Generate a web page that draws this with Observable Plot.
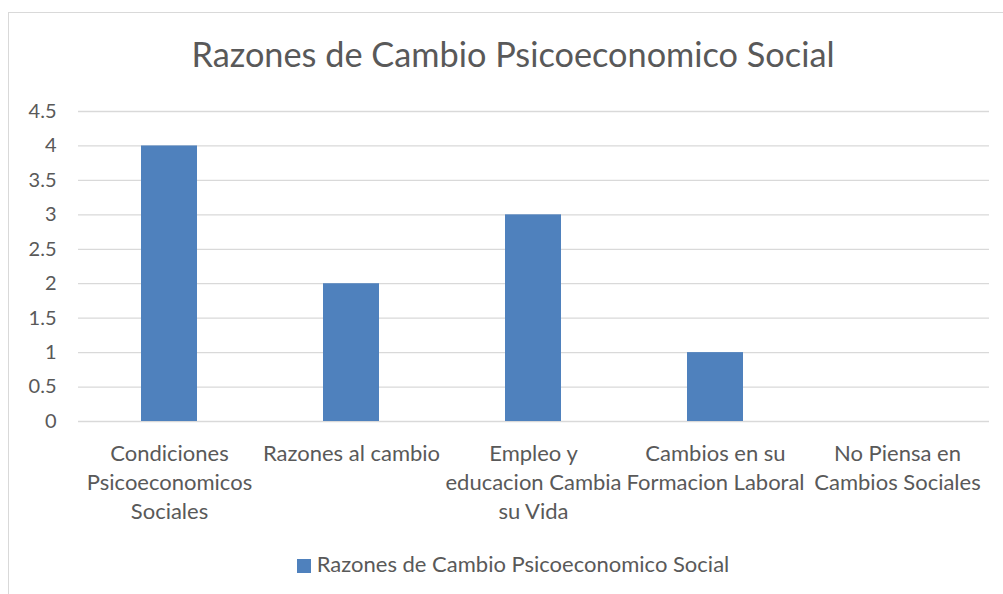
<!DOCTYPE html>
<html>
<head>
<meta charset="utf-8">
<script src="https://cdn.jsdelivr.net/npm/d3@7"></script>
<script src="https://cdn.jsdelivr.net/npm/@observablehq/plot@0.6"></script>
<style>
  html, body { margin: 0; padding: 0; background: #fff; width: 1003px; height: 594px; overflow: hidden; }
  body { font-family: Lato, "Open Sans", sans-serif; color: #595959; position: relative; }
  #frame { position: absolute; left: 8px; top: 12px; width: 1010px; height: 600px; border: 1px solid #d9d9d9; box-sizing: border-box; }
  #title { position: absolute; left: 8px; width: 1010px; top: 30px; text-align: center; font-size: 34.3px; line-height: 48px; color: #595959; white-space: nowrap; }
  #chart { position: absolute; left: 0; top: 90px; }
  #legend { position: absolute; left: 8px; width: 1010px; top: 550px; text-align: center; font-size: 22px; line-height: 28px; white-space: nowrap; color: #595959; }
  #legend .sw { display: inline-block; width: 14px; height: 14px; background: #4F81BD; margin-right: 6px; vertical-align: -1px; }
</style>
</head>
<body>
<div id="frame"></div>
<div id="title"></div>
<div id="chart"></div>
<div id="legend"></div>
<script>
const title = "Razones de Cambio Psicoeconomico Social";
const seriesName = "Razones de Cambio Psicoeconomico Social";
const categories = [
  "Condiciones\nPsicoeconomicos\nSociales",
  "Razones al cambio",
  "Empleo y\neducacion Cambia\nsu Vida",
  "Cambios en su\nFormacion Laboral",
  "No Piensa en\nCambios Sociales"
];
const values = [4, 2, 3, 1, 0];
const yTicks = [0, 0.5, 1, 1.5, 2, 2.5, 3, 3.5, 4, 4.5];
const yTickLabels = ["0", "0.5", "1", "1.5", "2", "2.5", "3", "3.5", "4", "4.5"];
const barColor = "#4F81BD";

const data = categories.map((c, i) => ({category: c, value: values[i]}));

document.getElementById("title").textContent = title;
document.getElementById("legend").innerHTML = '<span class="sw"></span>' + seriesName;

const chart = Plot.plot({
  width: 1003,
  height: 440,
  marginLeft: 78,
  marginRight: 14,
  marginTop: 21,
  marginBottom: 109,
  style: {fontFamily: "Lato, 'Open Sans', sans-serif", fontSize: "20px", color: "#595959", background: "transparent"},
  x: {domain: categories, paddingInner: 0.69, paddingOuter: 0.345, label: null},
  y: {domain: [0, 4.5], label: null},
  marks: [
    Plot.gridY(yTicks, {stroke: "#d9d9d9", strokeOpacity: 1, strokeWidth: 1.3}),
    Plot.barY(data, {x: "category", y: "value", fill: barColor}),
    Plot.axisY(yTicks, {tickSize: 0, tickPadding: 22, tickFormat: (d) => yTickLabels[yTicks.indexOf(d)], fill: "#595959", fontSize: 20, label: null}),
    Plot.axisX({tickSize: 0, tickPadding: 19, lineHeight: 1.32, fill: "#595959", fontSize: 22, label: null, textAnchor: "middle"})
  ]
});
document.getElementById("chart").appendChild(chart);
</script>
</body>
</html>
